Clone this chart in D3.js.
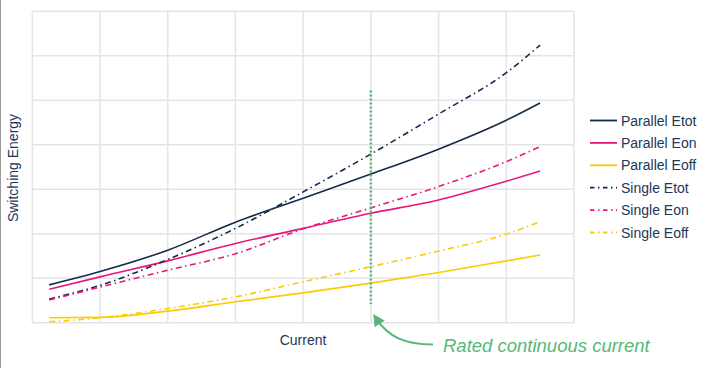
<!DOCTYPE html>
<html>
<head>
<meta charset="utf-8">
<script src="https://cdn.jsdelivr.net/npm/d3@7/dist/d3.min.js"></script>
<style>
html,body{margin:0;padding:0;background:#fff;}
svg{display:block;font-family:"Liberation Sans",Arial,sans-serif;}
</style>
</head>
<body>
<svg id="chart" width="708" height="368"></svg>
<script>
const currents = [5, 20, 40, 60, 80, 100, 120, 140, 150];
const parallelEtot = [8.5, 11.5, 16.3, 22.6, 28.0, 33.4, 39.0, 45.5, 49.4];
const parallelEon  = [7.5, 10.3, 13.9, 17.8, 21.2, 24.6, 27.6, 31.8, 34.1];
const parallelEoff = [1.1, 1.2, 2.6, 4.7, 6.7, 8.9, 11.3, 13.9, 15.2];
const singleEtot   = [5.3, 8.4, 14.2, 21.2, 29.4, 37.9, 46.9, 56.2, 62.4];
const singleEon    = [5.1, 8.0, 11.8, 15.5, 21.1, 25.8, 30.6, 36.2, 39.6];
const singleEoff   = [0.2, 1.1, 3.2, 5.8, 9.2, 12.6, 16.1, 19.9, 22.7];
const seriesNames = ["Parallel Etot","Parallel Eon","Parallel Eoff","Single Etot","Single Eon","Single Eoff"];
const xTicks = [0,20,40,60,80,100,120,140,160];
const yTicks = [0,10,20,30,40,50,60,70];
const ratedCurrent = 100;

const navy = "#15294c", pink = "#e8177c", yellow = "#fccb00", green = "#55b877", textCol = "#22365a";
const series = [
  {name: seriesNames[0], values: parallelEtot, color: navy, dash: null},
  {name: seriesNames[1], values: parallelEon, color: pink, dash: null},
  {name: seriesNames[2], values: parallelEoff, color: yellow, dash: null},
  {name: seriesNames[3], values: singleEtot, color: navy, dash: "6,3.5,1.5,3.5"},
  {name: seriesNames[4], values: singleEon, color: pink, dash: "6,3.5,1.5,3.5"},
  {name: seriesNames[5], values: singleEoff, color: yellow, dash: "6,3.5,1.5,3.5"}
];

const svg = d3.select("#chart");
const L = 32.3, R = 574, T = 11.3, B = 322.7;
const x = d3.scaleLinear().domain([0,160]).range([L,R]);
const y = d3.scaleLinear().domain([0,70]).range([B,T]);

// left page edge
svg.append("line").attr("x1",0.5).attr("x2",0.5).attr("y1",0).attr("y2",368)
  .attr("stroke","#9a9a9a").attr("stroke-width",1);

// grid
const grid = svg.append("g");
grid.selectAll(".v").data(xTicks).join("line")
  .attr("x1",d=>x(d)).attr("x2",d=>x(d)).attr("y1",T).attr("y2",B)
  .attr("stroke","#e4e4e9").attr("stroke-width",1.5);
grid.selectAll(".h").data(yTicks).join("line")
  .attr("x1",L).attr("x2",R).attr("y1",d=>y(d)).attr("y2",d=>y(d))
  .attr("stroke","#e4e4e9").attr("stroke-width",1.5);

// lines
const line = d3.line().x((d,i)=>x(currents[i])).y(d=>y(d)).curve(d3.curveMonotoneX);
svg.append("g").selectAll("path").data(series).join("path")
  .attr("d",d=>line(d.values))
  .attr("fill","none")
  .attr("stroke",d=>d.color)
  .attr("stroke-width",1.6)
  .attr("stroke-dasharray",d=>d.dash);

// rated current marker
svg.append("line").attr("x1",x(ratedCurrent)).attr("x2",x(ratedCurrent))
  .attr("y1",90.5).attr("y2",304)
  .attr("stroke",green).attr("stroke-width",2.5).attr("stroke-dasharray","2,2");

// arrow
svg.append("defs").append("marker").attr("id","ah")
  .attr("viewBox","0 0 10 10").attr("refX",6).attr("refY",5)
  .attr("markerUnits","userSpaceOnUse")
  .attr("markerWidth",12).attr("markerHeight",12).attr("orient","auto")
  .append("path").attr("d","M0,0 L10,5 L0,10 Z").attr("fill",green);
svg.append("path")
  .attr("d",`M433,344.5 C405,344.5 388,337 ${x(ratedCurrent)+5},318`)
  .attr("fill","none").attr("stroke",green).attr("stroke-width",2.2)
  .attr("marker-end","url(#ah)");
svg.append("text").attr("x",443).attr("y",352)
  .attr("fill",green).attr("font-size",18.5).attr("font-style","italic")
  .text("Rated continuous current");

// axis labels
svg.append("text").attr("x",303).attr("y",345).attr("text-anchor","middle")
  .attr("fill",textCol).attr("font-size",14).text("Current");
svg.append("text").attr("transform","translate(18,168) rotate(-90)")
  .attr("text-anchor","middle").attr("fill",textCol).attr("font-size",14)
  .text("Switching Energy");

// legend
const lg = svg.append("g").selectAll("g").data(series).join("g")
  .attr("transform",(d,i)=>`translate(590,${120.5 + i*22.4})`);
lg.append("line").attr("x1",0).attr("x2",27).attr("y1",0).attr("y2",0)
  .attr("stroke",d=>d.color).attr("stroke-width",1.8)
  .attr("stroke-dasharray",d=>d.dash ? "4.5,3.5,1.5,3.5" : null);
lg.append("text").attr("x",31).attr("y",5).attr("font-size",14)
  .attr("fill",textCol).text(d=>d.name);
</script>
</body>
</html>
